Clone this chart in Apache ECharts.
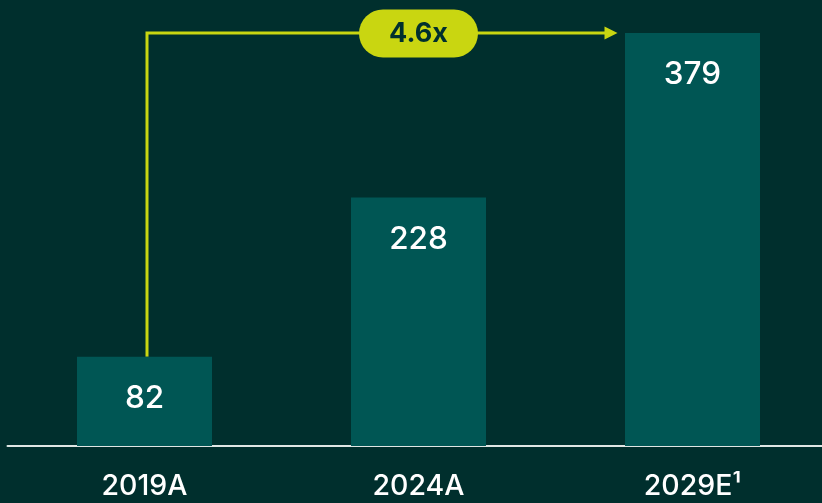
<!DOCTYPE html>
<html>
<head>
<meta charset="utf-8">
<style>
  html, body { margin: 0; padding: 0; background: #002f2d; }
  #chart { width: 822px; height: 503px; }
</style>
<script src="https://cdn.jsdelivr.net/npm/echarts@6/dist/echarts.min.js"></script>
</head>
<body>
<div id="chart"></div>
<script>
// data
var years = ['2019A', '2024A', '2029E\u00b9'];
var values = [82, 228, 379];
var growthLabel = '4.6x';

var lime = '#c9d611';
var chart = echarts.init(document.getElementById('chart'));

var option = {
    backgroundColor: '#002f2d',
    animation: false,
    grid: { left: 7.5, width: 822, top: 33, bottom: 57, outerBoundsMode: 'none', containLabel: false },
    xAxis: {
        type: 'category',
        data: years,
        axisLine: { lineStyle: { color: '#dfe6e4', width: 2 } },
        axisTick: { show: false },
        axisLabel: {
            color: '#ffffff',
            fontFamily: 'Inter',
            fontWeight: 500,
            fontSize: 28.5,
            margin: 26
        }
    },
    yAxis: {
        type: 'value',
        min: 0,
        max: 379,
        show: false,
        splitLine: { show: false }
    },
    series: [{
        type: 'bar',
        data: values,
        barWidth: 135,
        itemStyle: { color: '#005654' },
        label: {
            show: true,
            position: 'insideTop',
            distance: 26,
            color: '#ffffff',
            fontFamily: 'Inter',
            fontWeight: 500,
            fontSize: 31.5
        }
    }]
};
chart.setOption(option);

// growth arrow from first bar to last bar
var p0 = chart.convertToPixel({ gridIndex: 0 }, [0, values[0]]);
var p2 = chart.convertToPixel({ gridIndex: 0 }, [2, values[2]]);
var p1 = chart.convertToPixel({ gridIndex: 0 }, [1, values[2]]);
var lx = p0[0] + 2.5;
var ly = p2[1];
var tipX = p2[0] - 75;

chart.setOption({
    graphic: [
        {
            type: 'polyline',
            shape: { points: [[lx, p0[1]], [lx, ly], [tipX - 12, ly]] },
            style: { stroke: lime, lineWidth: 3, fill: null }
        },
        {
            type: 'polygon',
            shape: { points: [[tipX - 13, ly - 6.5], [tipX, ly], [tipX - 13, ly + 6.5]] },
            style: { fill: lime }
        },
        {
            type: 'rect',
            shape: { x: p1[0] - 59.5, y: ly - 23.5, width: 119, height: 48, r: 24 },
            style: { fill: lime }
        },
        {
            type: 'text',
            x: p1[0],
            y: ly + 1,
            style: {
                text: growthLabel,
                fill: '#00302e',
                font: 'bold 27px Inter',
                align: 'center',
                verticalAlign: 'middle'
            }
        }
    ]
});
</script>
</body>
</html>
